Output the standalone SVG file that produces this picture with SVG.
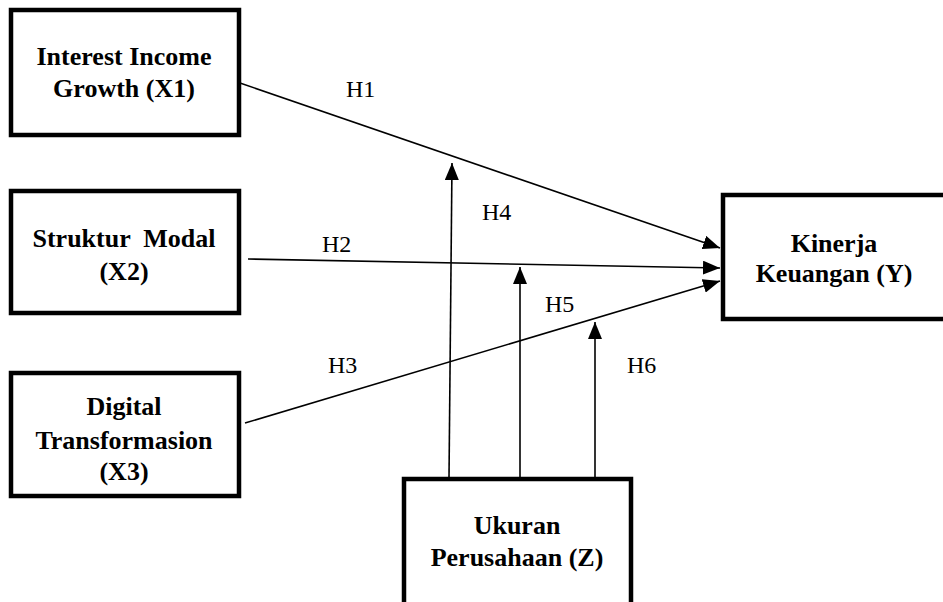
<svg xmlns="http://www.w3.org/2000/svg" width="943" height="602" viewBox="0 0 943 602">
<style>
.box{fill:#fff;stroke:#000;stroke-width:4.5}
.bt{font-family:"Liberation Serif","Times New Roman",serif;font-weight:bold;font-size:26px;text-anchor:middle;fill:#000}
.lt{font-family:"Liberation Serif","Times New Roman",serif;font-size:24px;fill:#000}
.ln{stroke:#000;stroke-width:1.6;fill:none;marker-end:url(#ah)}
</style>
<defs>
<marker id="ah" markerUnits="userSpaceOnUse" markerWidth="18" markerHeight="14" refX="17" refY="7" orient="auto">
<path d="M0,0 L17,7 L0,14 Z" fill="#000"/>
</marker>
</defs>
<rect width="943" height="602" fill="#fff"/>
<g id="connectors">
<line class="ln" x1="240" y1="83" x2="720" y2="248"/>
<line class="ln" x1="248" y1="259" x2="720" y2="268"/>
<line class="ln" x1="245" y1="423" x2="720" y2="281"/>
<line class="ln" x1="449" y1="478" x2="452" y2="163"/>
<line class="ln" x1="520" y1="478" x2="520" y2="267"/>
<line class="ln" x1="595" y1="482" x2="595" y2="322"/>
<text class="lt" x="346" y="97">H1</text>
<text class="lt" x="482" y="220">H4</text>
<text class="lt" x="322" y="252">H2</text>
<text class="lt" x="545" y="312">H5</text>
<text class="lt" x="328" y="373">H3</text>
<text class="lt" x="627" y="373">H6</text>
</g>
<g id="x1">
<rect class="box" x="11" y="10" width="228" height="125"/>
<text class="bt" x="124" y="65">Interest Income</text>
<text class="bt" x="124" y="97">Growth (X1)</text>
</g>
<g id="x2">
<rect class="box" x="11" y="191" width="228" height="122"/>
<text class="bt" x="124" y="247" xml:space="preserve">Struktur  Modal</text>
<text class="bt" x="124" y="280">(X2)</text>
</g>
<g id="x3">
<rect class="box" x="11" y="373" width="228" height="123"/>
<text class="bt" x="124" y="415">Digital</text>
<text class="bt" x="124" y="449">Transformasion</text>
<text class="bt" x="124" y="480">(X3)</text>
</g>
<g id="y">
<rect class="box" x="723" y="195" width="240" height="124"/>
<text class="bt" x="834" y="252">Kinerja</text>
<text class="bt" x="834" y="282">Keuangan (Y)</text>
</g>
<g id="z">
<rect class="box" x="404" y="479" width="227" height="140"/>
<text class="bt" x="517" y="534">Ukuran</text>
<text class="bt" x="517" y="566">Perusahaan (Z)</text>
</g>
</svg>
